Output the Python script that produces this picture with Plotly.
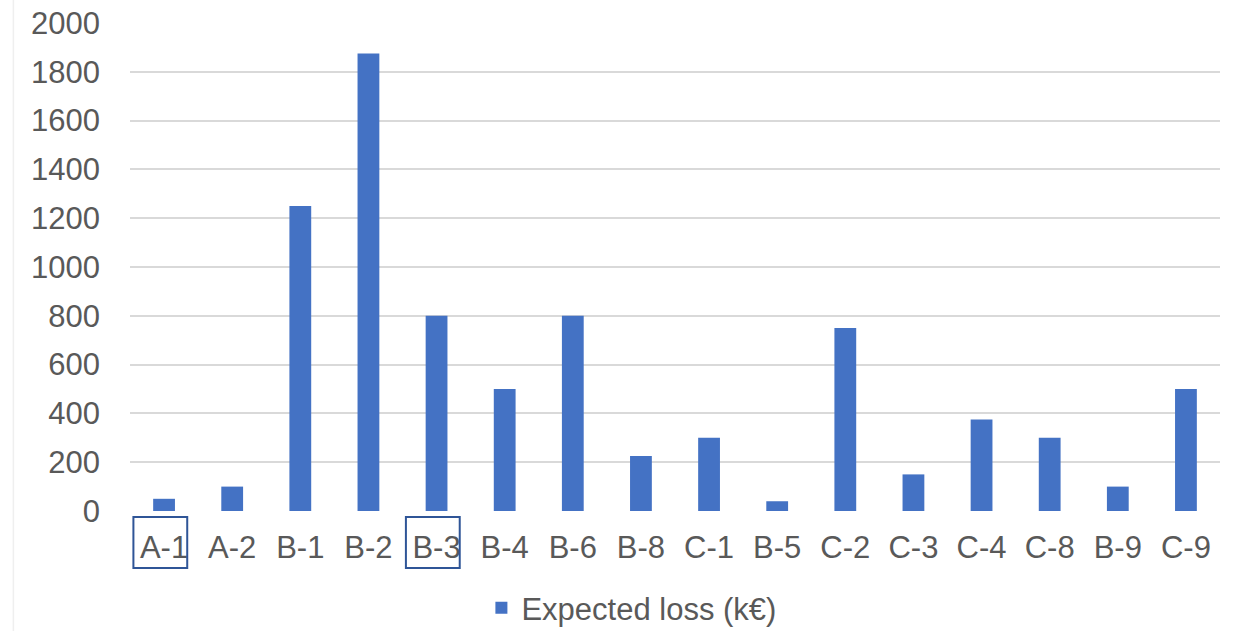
import plotly.graph_objects as go

# Scenario codes and their expected losses (k€)
categories = ["A-1", "A-2", "B-1", "B-2", "B-3", "B-4", "B-6", "B-8",
              "C-1", "B-5", "C-2", "C-3", "C-4", "C-8", "B-9", "C-9"]
expected_loss = [50, 100, 1250, 1875, 800, 500, 800, 225,
                 300, 40, 750, 150, 375, 300, 100, 500]
y_ticks = [0, 200, 400, 600, 800, 1000, 1200, 1400, 1600, 1800, 2000]
highlighted = ["A-1", "B-3"]

BAR_COLOR = "#4472C4"
TEXT_COLOR = "#595959"
GRID_COLOR = "#D9D9D9"
BOX_COLOR = "#2F5597"
FONT = "Liberation Sans, Arial, sans-serif"

fig = go.Figure()
fig.add_trace(go.Bar(
    x=categories,
    y=expected_loss,
    name="Expected loss (k€)",
    marker=dict(color=BAR_COLOR, line=dict(width=0)),
    showlegend=True,
))

# Outline the highlighted category labels
shapes = []
for cat in highlighted:
    i = categories.index(cat)
    shapes.append(dict(
        type="rect", xref="x", yref="paper",
        x0=i - 0.45, x1=i + 0.34, y0=-0.117, y1=-0.0125,
        line=dict(color=BOX_COLOR, width=2), fillcolor="rgba(0,0,0,0)",
        layer="above",
    ))
# Faint chart-frame edge on the left
shapes.append(dict(
    type="line", xref="paper", yref="paper",
    x0=-0.107, x1=-0.107, y0=-0.26, y1=1.06,
    line=dict(color="#EFEFEF", width=1.5),
))

fig.update_layout(
    width=1243, height=631,
    margin=dict(l=130, r=23, t=23, b=120, autoexpand=False),
    paper_bgcolor="white", plot_bgcolor="white",
    font=dict(family=FONT, color=TEXT_COLOR, size=31),
    bargap=0.68,
    shapes=shapes,
    legend=dict(
        orientation="h", x=0.46, xanchor="center", y=-0.199, yanchor="middle",
        font=dict(family=FONT, size=31, color=TEXT_COLOR),
        itemwidth=30, bgcolor="rgba(0,0,0,0)",
    ),
    xaxis=dict(
        type="category", showgrid=False, zeroline=False, showline=False,
        ticks="", ticklabelstandoff=15,
        tickfont=dict(family=FONT, size=31, color=TEXT_COLOR),
    ),
    yaxis=dict(
        range=[0, 2000], tickvals=y_ticks, showgrid=True,
        gridcolor=GRID_COLOR, gridwidth=2, zeroline=False, showline=False,
        ticks="", ticklabelstandoff=29,
        tickfont=dict(family=FONT, size=31, color=TEXT_COLOR),
    ),
)

fig.write_html("out.html")
